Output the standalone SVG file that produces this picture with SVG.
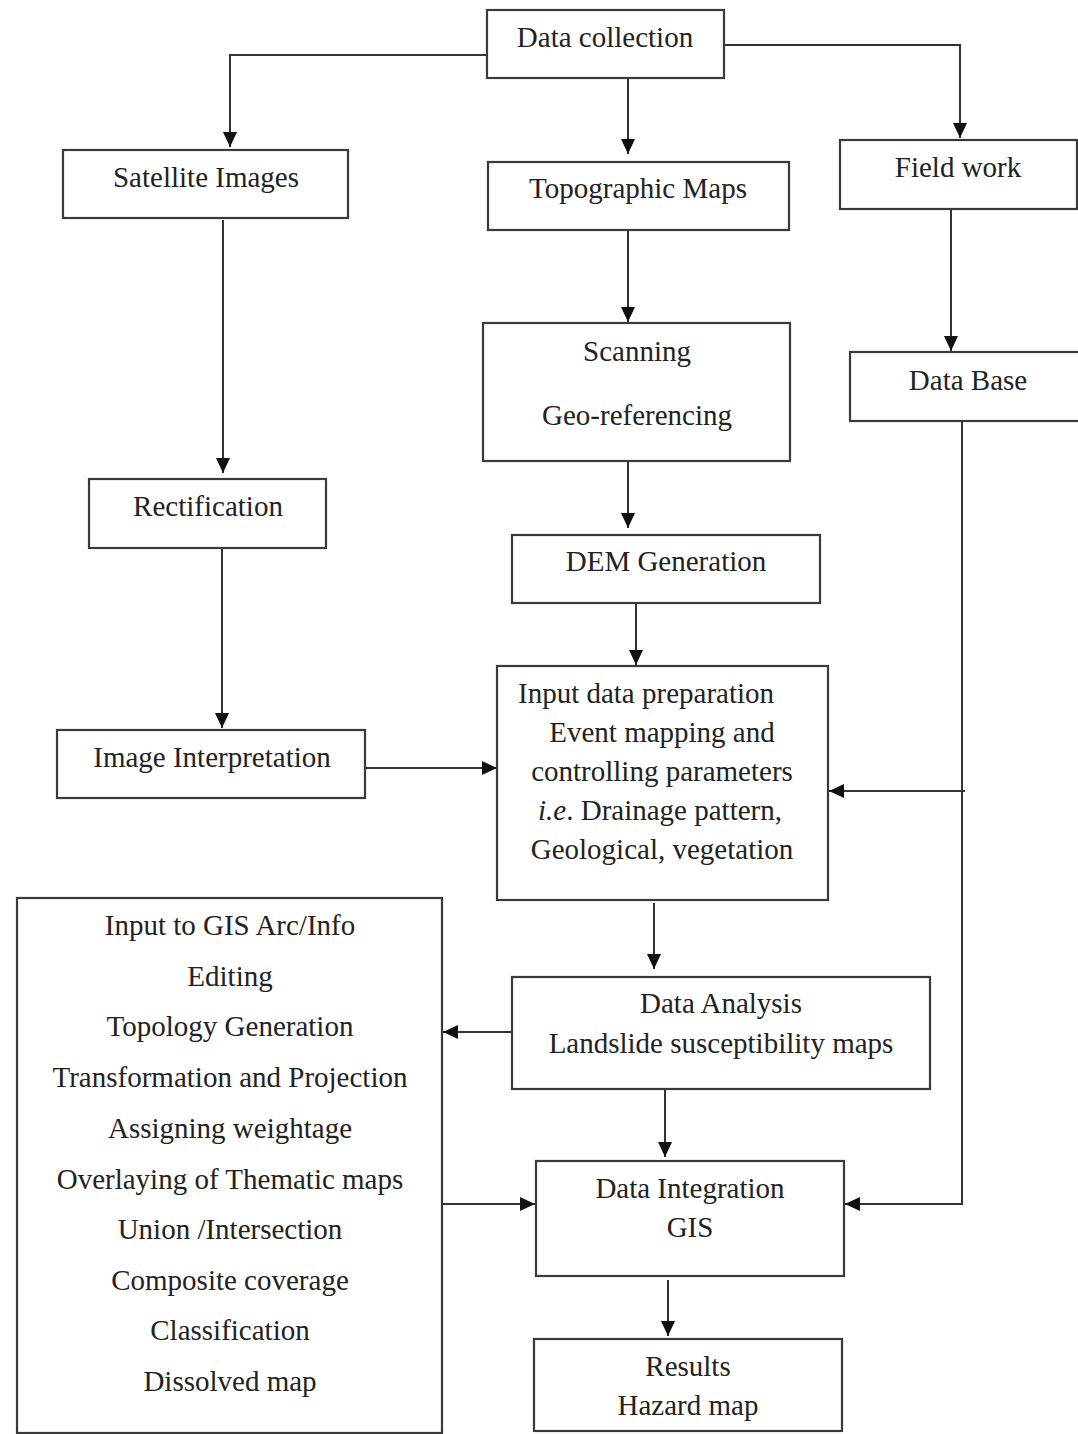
<svg xmlns="http://www.w3.org/2000/svg" width="1078" height="1434" viewBox="0 0 1078 1434">
<style>
.box{fill:#fff;stroke:#3a3a3a;stroke-width:2.2}
.t{font-family:"Liberation Serif","Times New Roman",serif;font-size:29px;fill:#222;text-anchor:middle}
.c{fill:none;stroke:#333;stroke-width:2}
</style>
<defs>
<marker id="ah" markerUnits="userSpaceOnUse" markerWidth="16" markerHeight="14" viewBox="0 0 16 14" refX="15" refY="7" orient="auto">
<path d="M0,0 L15,7 L0,14 z" fill="#111"/>
</marker>
</defs>
<rect width="1078" height="1434" fill="#fff"/>
<g id="connectors">
<path class="c" d="M487,55 H230 V147" marker-end="url(#ah)"/>
<path class="c" d="M628,78 V154" marker-end="url(#ah)"/>
<path class="c" d="M724,45 H960 V138" marker-end="url(#ah)"/>
<path class="c" d="M628,230 V322" marker-end="url(#ah)"/>
<path class="c" d="M951,206 V351" marker-end="url(#ah)"/>
<path class="c" d="M223,220 V473" marker-end="url(#ah)"/>
<path class="c" d="M628,461 V528" marker-end="url(#ah)"/>
<path class="c" d="M636,603 V665" marker-end="url(#ah)"/>
<path class="c" d="M222,548 V728" marker-end="url(#ah)"/>
<path class="c" d="M365,768 H497" marker-end="url(#ah)"/>
<path class="c" d="M962,421 V1204 H845" marker-end="url(#ah)"/>
<path class="c" d="M965,791 H829" marker-end="url(#ah)"/>
<path class="c" d="M654,903 V969" marker-end="url(#ah)"/>
<path class="c" d="M512,1032 H443" marker-end="url(#ah)"/>
<path class="c" d="M665,1089 V1157" marker-end="url(#ah)"/>
<path class="c" d="M442,1204 H535" marker-end="url(#ah)"/>
<path class="c" d="M668,1280 V1336" marker-end="url(#ah)"/>
</g>
<g id="data-collection"><rect class="box" x="487" y="10" width="237" height="68"/><text class="t" x="605" y="47">Data collection</text></g>
<g id="satellite-images"><rect class="box" x="63" y="150" width="285" height="68"/><text class="t" x="206" y="187">Satellite Images</text></g>
<g id="topographic-maps"><rect class="box" x="488" y="162" width="301" height="68"/><text class="t" x="638" y="198">Topographic Maps</text></g>
<g id="field-work"><rect class="box" x="840" y="140" width="237" height="69"/><text class="t" x="958" y="177">Field work</text></g>
<g id="scanning"><rect class="box" x="483" y="323" width="307" height="138"/><text class="t" x="637" y="361">Scanning</text><text class="t" x="637" y="425">Geo-referencing</text></g>
<g id="data-base"><rect class="box" x="850" y="352" width="230" height="69"/><text class="t" x="968" y="390">Data Base</text></g>
<g id="rectification"><rect class="box" x="89" y="479" width="237" height="69"/><text class="t" x="208" y="516">Rectification</text></g>
<g id="dem-generation"><rect class="box" x="512" y="535" width="308" height="68"/><text class="t" x="666" y="571">DEM Generation</text></g>
<g id="input-data"><rect class="box" x="497" y="666" width="331" height="234"/>
<text class="t" x="646" y="703">Input data preparation</text>
<text class="t" x="662" y="742">Event mapping and</text>
<text class="t" x="662" y="781">controlling parameters</text>
<text class="t" x="660" y="820"><tspan font-style="italic">i.e</tspan>. Drainage pattern,</text>
<text class="t" x="662" y="859">Geological, vegetation</text></g>
<g id="image-interpretation"><rect class="box" x="57" y="730" width="308" height="68"/><text class="t" x="212" y="767">Image Interpretation</text></g>
<g id="data-analysis"><rect class="box" x="512" y="977" width="418" height="112"/><text class="t" x="721" y="1013">Data Analysis</text><text class="t" x="721" y="1053">Landslide susceptibility maps</text></g>
<g id="gis-steps"><rect class="box" x="17" y="898" width="425" height="535"/>
<text class="t" x="230" y="935">Input to GIS Arc/Info</text>
<text class="t" x="230" y="986">Editing</text>
<text class="t" x="230" y="1036">Topology Generation</text>
<text class="t" x="230" y="1087">Transformation and Projection</text>
<text class="t" x="230" y="1138">Assigning weightage</text>
<text class="t" x="230" y="1189">Overlaying of Thematic maps</text>
<text class="t" x="230" y="1239">Union /Intersection</text>
<text class="t" x="230" y="1290">Composite coverage</text>
<text class="t" x="230" y="1340">Classification</text>
<text class="t" x="230" y="1391">Dissolved map</text></g>
<g id="data-integration"><rect class="box" x="536" y="1161" width="308" height="115"/><text class="t" x="690" y="1198">Data Integration</text><text class="t" x="690" y="1237">GIS</text></g>
<g id="results"><rect class="box" x="534" y="1339" width="308" height="92"/><text class="t" x="688" y="1376">Results</text><text class="t" x="688" y="1415">Hazard map</text></g>
</svg>
